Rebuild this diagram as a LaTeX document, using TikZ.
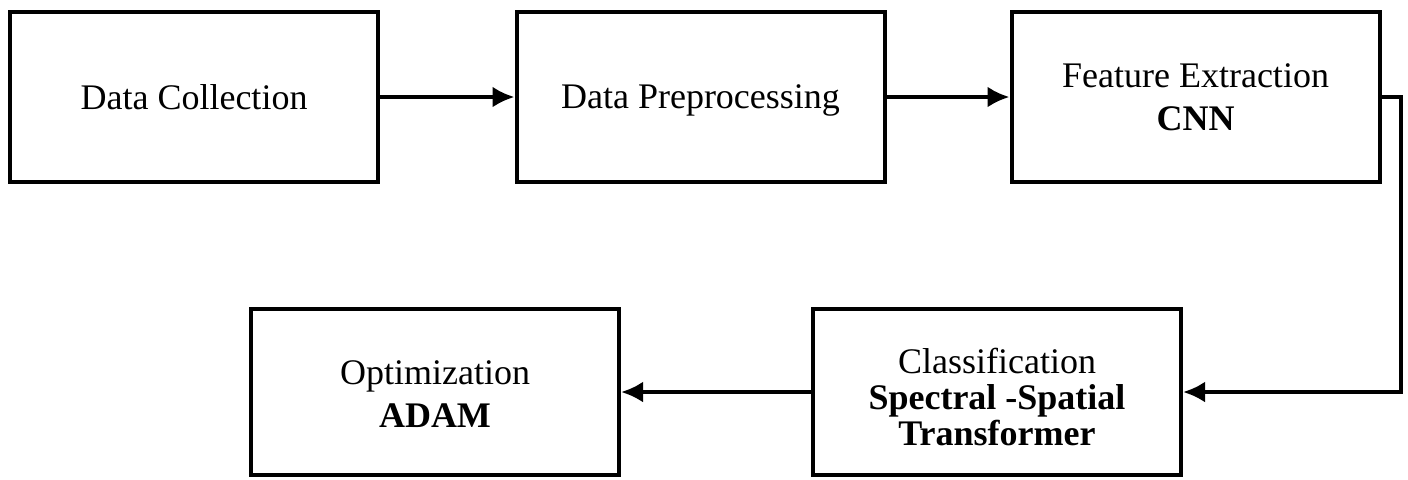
\documentclass[tikz,border=0pt]{standalone}
\usepackage{fontspec}
\setmainfont{Liberation Serif}
\usetikzlibrary{arrows.meta}

\begin{document}
\begin{tikzpicture}[x=0.5pt, y=-0.5pt, line width=2pt,
	every node/.style={font=\fontsize{18}{21.5}\selectfont},
	block/.style={draw, align=center, minimum width=184pt, minimum height=85pt, inner sep=0pt},
	>={Latex[length=11pt, width=10.5pt]}]
	\useasboundingbox (0,0) rectangle (1408,479);
	% top row
	\node[block] (collect) at (194,97) {Data Collection};
	\node[block, text depth=0pt] (prep) at (700.5,97) {Data Preprocessing};
	\node[block] (feat) at (1195.5,97) {Feature Extraction\\ \textbf{CNN}};
	% bottom row
	\node[block, minimum height=83pt] (classif) at (997,392) {\rule{0pt}{17.5pt}Classification\\[-3.5pt] \textbf{Spectral -Spatial}\\[-3.5pt] \textbf{Transformer}};
	\node[block, minimum height=83pt] (optim) at (435,392) {\rule{0pt}{14.5pt}Optimization\\ \textbf{ADAM}};
	\draw[->] (collect) -- (prep);
	\draw[->] (prep) -- (feat);
	\draw[->] (feat.east) -- ++(19,0) |- (classif.east);
	\draw[->] (classif) -- (optim);
\end{tikzpicture}
\end{document}
